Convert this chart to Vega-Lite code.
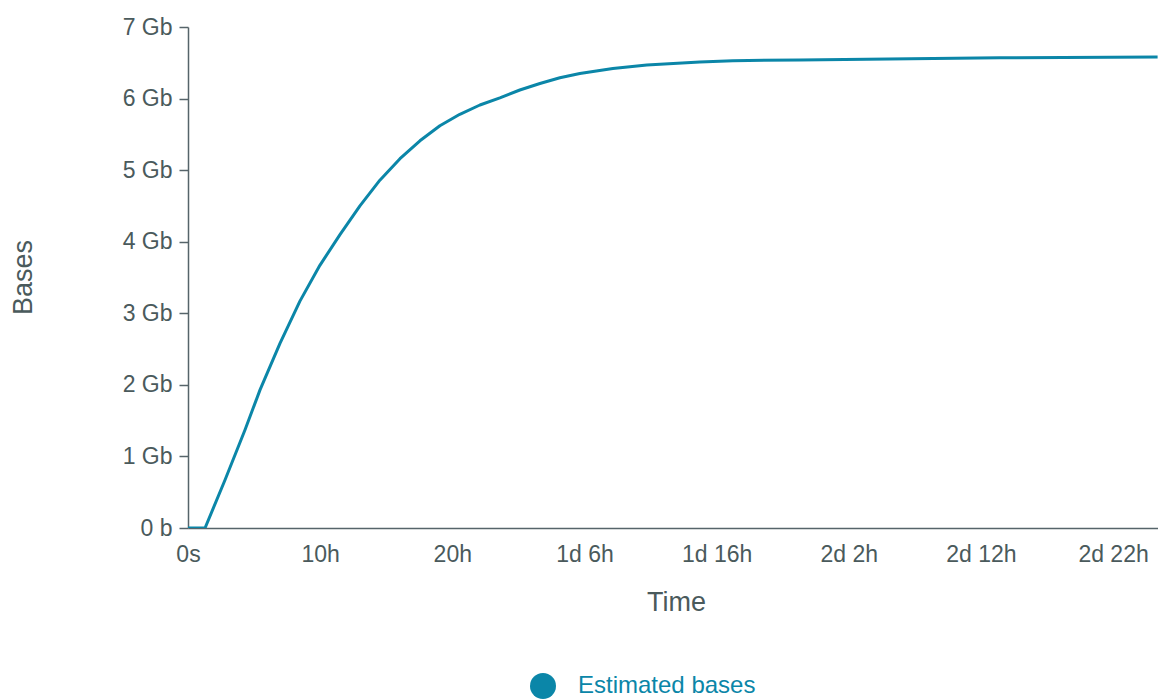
{
  "$schema": "https://vega.github.io/schema/vega-lite/v6.json",
  "width": 970,
  "height": 501,
  "autosize": "none",
  "padding": {"left": 188, "top": 27, "right": 0, "bottom": 171},
  "background": "white",
  "config": {
    "view": {"stroke": null},
    "font": "Liberation Sans",
    "axis": {"grid": false, "domainColor": "#56646a", "tickColor": "#56646a", "labelColor": "#4a5a5c", "titleColor": "#4a5a5c", "labelFontSize": 23, "titleFontSize": 27, "titleFontWeight": "normal", "domainWidth": 1.5, "tickWidth": 1.5}
  },
  "data": {
    "values": [
      {"hours": 0, "gb": 0, "series": "Estimated bases"},
      {"hours": 1.29, "gb": 0, "series": "Estimated bases"},
      {"hours": 2.8, "gb": 0.67, "series": "Estimated bases"},
      {"hours": 4.31, "gb": 1.37, "series": "Estimated bases"},
      {"hours": 5.45, "gb": 1.93, "series": "Estimated bases"},
      {"hours": 6.96, "gb": 2.58, "series": "Estimated bases"},
      {"hours": 8.47, "gb": 3.17, "series": "Estimated bases"},
      {"hours": 9.98, "gb": 3.67, "series": "Estimated bases"},
      {"hours": 11.5, "gb": 4.1, "series": "Estimated bases"},
      {"hours": 13.01, "gb": 4.5, "series": "Estimated bases"},
      {"hours": 14.52, "gb": 4.86, "series": "Estimated bases"},
      {"hours": 16.04, "gb": 5.16, "series": "Estimated bases"},
      {"hours": 17.55, "gb": 5.41, "series": "Estimated bases"},
      {"hours": 19.06, "gb": 5.62, "series": "Estimated bases"},
      {"hours": 20.57, "gb": 5.78, "series": "Estimated bases"},
      {"hours": 22.09, "gb": 5.91, "series": "Estimated bases"},
      {"hours": 23.6, "gb": 6.01, "series": "Estimated bases"},
      {"hours": 25.11, "gb": 6.12, "series": "Estimated bases"},
      {"hours": 26.63, "gb": 6.21, "series": "Estimated bases"},
      {"hours": 28.14, "gb": 6.29, "series": "Estimated bases"},
      {"hours": 29.65, "gb": 6.35, "series": "Estimated bases"},
      {"hours": 32.15, "gb": 6.42, "series": "Estimated bases"},
      {"hours": 34.72, "gb": 6.47, "series": "Estimated bases"},
      {"hours": 38.73, "gb": 6.51, "series": "Estimated bases"},
      {"hours": 41.23, "gb": 6.53, "series": "Estimated bases"},
      {"hours": 46.29, "gb": 6.54, "series": "Estimated bases"},
      {"hours": 51.36, "gb": 6.55, "series": "Estimated bases"},
      {"hours": 61.42, "gb": 6.57, "series": "Estimated bases"},
      {"hours": 73.37, "gb": 6.58, "series": "Estimated bases"}
    ]
  },
  "mark": {"type": "line", "strokeWidth": 3, "interpolate": "linear", "strokeJoin": "round", "clip": true},
  "encoding": {
    "x": {
      "field": "hours",
      "type": "quantitative",
      "scale": {"domain": [0, 73.4], "nice": false},
      "axis": {
        "values": [0, 10, 20, 30, 40, 50, 60, 70],
        "ticks": false,
        "labelFlush": false,
        "labelPadding": 15,
        "labelExpr": "datum.value == 0 ? '0s' : (datum.value < 24 ? datum.value + 'h' : floor(datum.value / 24) + 'd ' + (datum.value % 24) + 'h')",
        "title": "Time",
        "titleY": 74,
        "titleBaseline": "middle",
        "titleX": 488
      }
    },
    "y": {
      "field": "gb",
      "type": "quantitative",
      "scale": {"domain": [0, 7], "nice": false},
      "axis": {
        "values": [0, 1, 2, 3, 4, 5, 6, 7],
        "tickSize": 9,
        "labelPadding": 7,
        "labelExpr": "datum.value == 0 ? '0 b' : datum.value + ' Gb'",
        "title": "Bases",
        "titleX": -165,
        "titleY": 250,
        "titleAngle": -90,
        "titleAlign": "center",
        "titleBaseline": "middle"
      }
    },
    "color": {
      "field": "series",
      "type": "nominal",
      "scale": {"range": ["#0b86a8"]},
      "legend": {
        "title": null,
        "orient": "none",
        "legendX": 342,
        "legendY": 646,
        "padding": 0,
        "symbolType": "circle",
        "symbolSize": 676,
        "labelFontSize": 24,
        "labelLimit": 400,
        "labelColor": "#0b86a8",
        "labelOffset": 22,
        "encode": {"symbols": {"update": {"fill": {"value": "#0b86a8"}, "strokeWidth": {"value": 0}}}}
      }
    }
  }
}
